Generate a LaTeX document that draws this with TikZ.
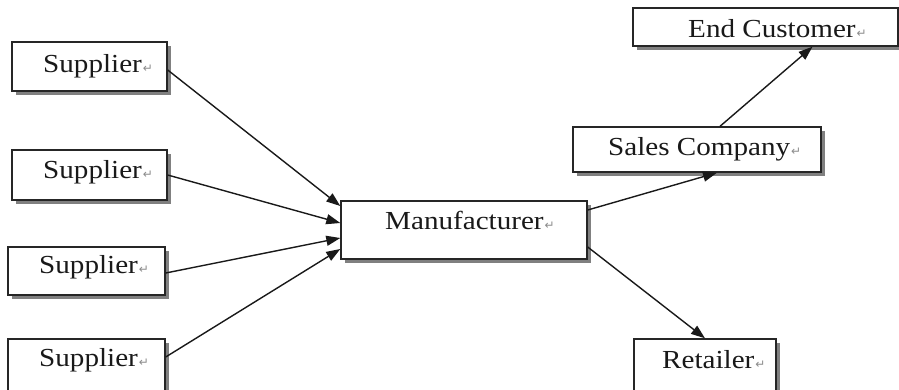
\documentclass[tikz,border=0pt]{standalone}
\usepackage{fontspec}
\setmainfont{Liberation Serif}[FakeStretch=1.12]
\newfontfamily\markfont{DejaVu Sans}
\usetikzlibrary{arrows.meta,shadows}

\newcommand{\retmark}{\hspace{1pt}{\markfont\fontsize{12}{12}\selectfont\color{black!45}\char"21B5}}

\tikzset{
  box/.style={draw=black!85, line width=1.4pt, fill=white, inner sep=0pt,
    drop shadow={shadow xshift=4pt, shadow yshift=-4pt, fill=black!50, opacity=1}},
  lbl/.style={anchor=base west, inner sep=0pt, font=\fontsize{26}{29}\selectfont, text=black!90},
  flow/.style={draw=black!90, line width=1.4pt, -{Triangle[length=14pt,width=10pt]}}
}

\begin{document}
\begin{tikzpicture}[x=1pt, y=-1pt]
  \useasboundingbox (0,0) rectangle (899,389);

  % suppliers
  \node[box, minimum width=155pt, minimum height=49pt] (s1) at (89.5,66.5) {};
  \node[box, minimum width=155pt, minimum height=50pt] (s2) at (89.5,175) {};
  \node[box, minimum width=157pt, minimum height=48pt] (s3) at (86.5,271) {};
  \node[box, minimum width=157pt, minimum height=52pt] (s4) at (86.5,365) {};
  % manufacturer and downstream
  \node[box, minimum width=246pt, minimum height=58pt] (man) at (464,230) {};
  \node[box, minimum width=265pt, minimum height=38pt] (end) at (765.5,27) {};
  \node[box, minimum width=248pt, minimum height=45pt] (sales) at (697,149.5) {};
  \node[box, minimum width=142pt, minimum height=52pt] (ret) at (705,365) {};

  % labels
  \node[lbl] (s1t) at (43,72) {Supplier\retmark};
  \node[lbl] (s2t) at (43,178) {Supplier\retmark};
  \node[lbl] (s3t) at (39,273) {Supplier\retmark};
  \node[lbl] (s4t) at (39,366) {Supplier\retmark};
  \node[lbl] (mant) at (385,229) {Manufacturer\retmark};
  \node[lbl] (endt) at (688,37) {End Customer\retmark};
  \node[lbl] (salest) at (608,155) {Sales Company\retmark};
  \node[lbl] (rett) at (662,368) {Retailer\retmark};

  % flows into the manufacturer
  \draw[flow] ([yshift=-3.5pt]s1.east) -- ([yshift=24pt]man.west);
  \draw[flow] (s2.east) -- ([yshift=7pt]man.west);
  \draw[flow] ([yshift=-2pt]s3.east) -- ([yshift=-8pt]man.west);
  \draw[flow] ([yshift=8pt]s4.east) -- ([yshift=-19pt]man.west);
  % flows out of the manufacturer
  \draw[flow] ([yshift=20pt]man.east) -- ([xshift=20pt]sales.south);
  \draw[flow] ([yshift=-17pt]man.east) -- (ret.north);
  \draw[flow] ([xshift=23pt]sales.north) -- ([xshift=47pt]end.south);
\end{tikzpicture}
\end{document}
